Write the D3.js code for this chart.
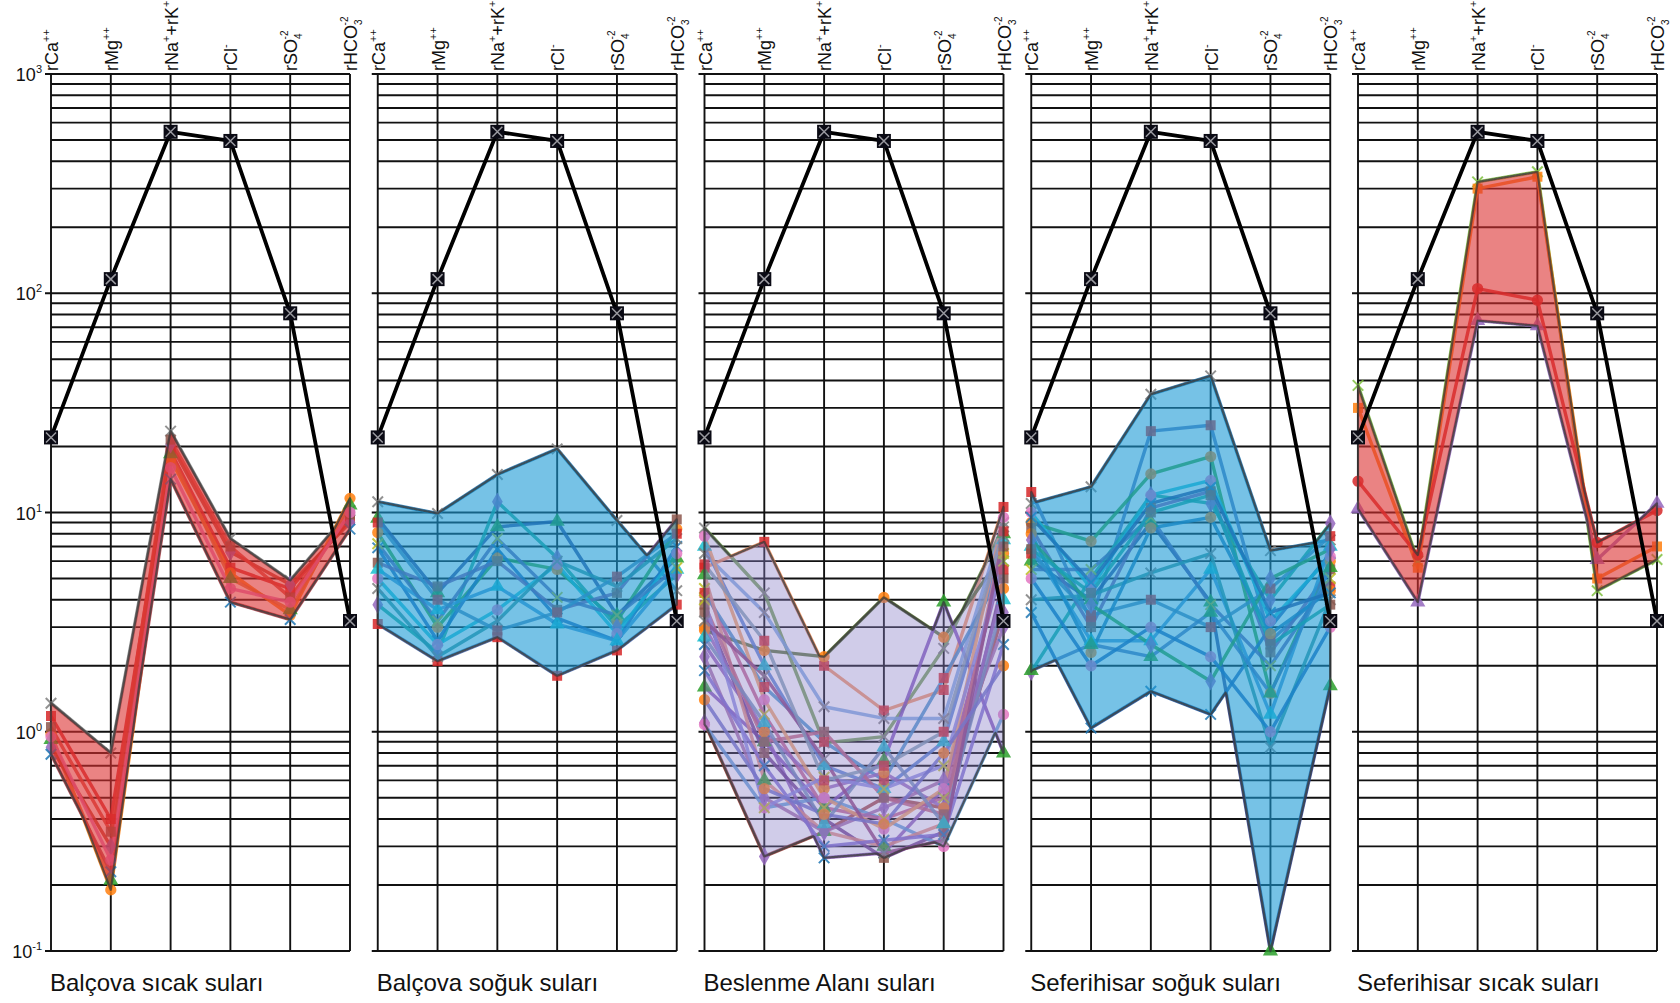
<!DOCTYPE html>
<html>
<head>
<meta charset="utf-8">
<script src="https://cdn.jsdelivr.net/npm/d3@7"></script>
<style>
  html, body { margin: 0; background: #fff; }
  svg { display: block; font-family: "Liberation Sans", Arial, sans-serif; }
</style>
</head>
<body>
<svg id="chart" width="1680" height="1003"></svg>
<script>
// ---- Schoeller diagram data (meq/L) ----
// Column order of the ions
const ions = ["Ca", "Mg", "NaK", "Cl", "SO4", "HCO3"];

// Column header labels: [text, role] pieces (role: "" normal, "sup", "sub", "subsup")
const ionLabels = [
  [["rCa", ""], ["++", "sup"]],
  [["rMg", ""], ["++", "sup"]],
  [["rNa", ""], ["+", "sup"], ["+rK", ""], ["+", "sup"]],
  [["rCl", ""], ["-", "sup"]],
  [["rSO", ""], ["4", "sub"], ["-2", "subsup"]],
  [["rHCO", ""], ["3", "sub"], ["-2", "subsup"]]
];

// Decade tick labels (exponents of 10)
const tickExponents = ["3", "2", "1", "0", "-1"];

const panelTitles = [
  "Balçova sıcak suları",
  "Balçova soğuk suları",
  "Beslenme Alanı suları",
  "Seferihisar soğuk suları",
  "Seferihisar sıcak suları"
];

// Sea water reference profile drawn in black on every panel
const referenceWater = [22, 116, 545, 495, 81, 3.2];

const balcovaHot = [
  [1.35, 0.80, 23.5, 7.6, 4.9, 10.2],
  [1.18, 0.40, 19.0, 5.6, 4.5, 9.3],
  [0.98, 0.19, 17.5, 5.3, 3.4, 11.6],
  [0.92, 0.21, 18.5, 5.0, 3.6, 10.8],
  [0.85, 0.30, 20.5, 6.6, 4.7, 9.0],
  [0.79, 0.23, 14.2, 3.9, 3.25, 8.4],
  [1.05, 0.35, 21.5, 7.0, 4.1, 9.8],
  [0.95, 0.26, 16.0, 4.5, 3.9, 10.0]
];

const balcovaCold = [
  [11.2, 9.9, 14.9, 19.5, 9.2, 4.4],
  [3.1, 2.1, 2.7, 1.8, 2.35, 3.8],
  [8.1, 3.0, 6.2, 5.5, 3.2, 8.4],
  [9.4, 4.3, 8.6, 9.1, 3.4, 6.2],
  [3.8, 2.3, 11.2, 6.2, 3.0, 5.2],
  [6.9, 2.6, 6.8, 3.3, 2.6, 7.0],
  [5.9, 4.6, 6.0, 3.6, 4.3, 9.3],
  [5.0, 2.5, 3.6, 5.8, 2.8, 6.5],
  [5.5, 3.6, 4.6, 3.1, 2.6, 5.5],
  [7.2, 3.2, 7.6, 4.1, 3.4, 5.6],
  [4.5, 2.2, 3.2, 6.0, 4.6, 7.6],
  [9.0, 4.0, 2.9, 3.5, 5.1, 8.0]
];

const rechargeArea = [
  [8.5, 4.3, 0.89, 0.95, 2.4, 8.6],
  [5.6, 7.35, 2.0, 1.25, 1.55, 10.6],
  [2.9, 2.35, 2.2, 4.1, 2.7, 6.5],
  [1.6, 0.9, 0.45, 0.74, 3.9, 0.8],
  [1.1, 0.27, 0.35, 0.5, 0.45, 3.5],
  [2.5, 1.0, 0.266, 0.28, 0.55, 6.0],
  [3.5, 0.8, 0.4, 0.266, 0.35, 5.0],
  [1.08, 0.45, 0.5, 0.4, 0.30, 1.2],
  [7.0, 2.0, 0.7, 0.55, 0.9, 7.5],
  [4.5, 1.2, 0.45, 0.4, 0.5, 6.5],
  [6.5, 3.5, 1.3, 1.15, 1.15, 9.0],
  [4.3, 1.6, 0.9, 0.6, 1.76, 5.5],
  [3.0, 1.0, 0.55, 0.65, 0.45, 4.5],
  [5.2, 0.6, 0.35, 0.3, 0.38, 8.0],
  [2.2, 0.5, 0.35, 0.45, 0.6, 3.0],
  [1.9, 0.7, 0.3, 0.32, 0.34, 2.5],
  [3.8, 0.9, 1.0, 0.5, 0.42, 7.0],
  [7.8, 1.4, 0.5, 0.36, 0.55, 9.5],
  [2.7, 1.1, 0.38, 0.85, 0.38, 4.0],
  [4.0, 0.45, 0.62, 0.55, 0.7, 6.0],
  [3.2, 1.8, 0.75, 0.28, 0.32, 7.8],
  [5.8, 2.6, 0.6, 0.7, 1.0, 8.2],
  [1.4, 0.55, 0.42, 0.38, 0.8, 2.0]
];

const seferihisarCold = [
  [11.0, 13.1, 34.6, 42.0, 6.7, 7.5],
  [12.4, 3.2, 23.5, 25.0, 2.6, 4.6],
  [9.0, 7.4, 15.0, 18.0, 1.5, 6.0],
  [6.0, 4.0, 9.0, 3.9, 0.1, 1.62],
  [1.88, 5.0, 12.0, 11.0, 4.0, 8.9],
  [3.5, 1.04, 1.53, 1.2, 3.0, 6.5],
  [8.5, 3.0, 10.5, 12.5, 2.3, 5.5],
  [10.0, 4.5, 12.0, 14.0, 3.2, 6.3],
  [7.0, 2.6, 2.6, 5.5, 1.2, 7.0],
  [5.5, 5.5, 9.5, 3.8, 2.0, 5.0],
  [4.0, 4.2, 5.3, 6.5, 0.85, 4.0],
  [6.5, 3.4, 4.0, 3.0, 4.5, 7.8],
  [8.0, 2.3, 8.5, 9.5, 2.8, 4.4],
  [1.9, 2.5, 2.2, 3.5, 1.5, 5.6],
  [7.5, 3.8, 2.5, 1.7, 5.0, 6.8],
  [9.5, 4.8, 11.0, 13.0, 3.5, 4.3],
  [6.8, 4.3, 10.0, 12.0, 2.5, 3.8],
  [5.0, 2.0, 3.0, 2.2, 1.0, 3.0]
];

const seferihisarHot = [
  [38.0, 6.0, 322, 358, 4.4, 6.1],
  [30.0, 5.6, 300, 340, 5.0, 7.0],
  [13.9, 6.4, 105, 93, 7.3, 10.2],
  [10.4, 3.9, 75, 71, 6.1, 11.0]
];

const panelSamples = [balcovaHot, balcovaCold, rechargeArea, seferihisarCold, seferihisarHot];

// ---- styling ----
const envelopeFill = ["#dc3030", "#1a9ad6", "#8a80c8", "#1a9ad6", "#dc3030"];
const envelopeOpacity = [0.6, 0.6, 0.4, 0.6, 0.6];

const warmLines = ["#7f7f7f", "#d62728", "#ff7f0e", "#e07b39", "#c0392b", "#b8414a", "#d9463b", "#e377c2"];
const coolLines = ["#1f77b4", "#4a6fb5", "#2ca02c", "#2a3f8f", "#17a589", "#1f5fb4", "#7a4fa0", "#17becf", "#3b8fd0", "#5a5aa8", "#2f8f8f", "#4682b4"];
const mixedLines = ["#6a9a4a", "#f28e5c", "#4d6b2a", "#7b4fb8", "#a0403c", "#8a5ab8", "#6a3a8a", "#5b9bd5",
  "#4f7fd0", "#c05a8a", "#7aa7e0", "#3f8fc9", "#9467bd", "#e08a7a", "#a06aa8", "#7a6ad0", "#c2607a",
  "#f0a060", "#6f8fb8", "#8a8ae0", "#8e3f7a", "#7f9fb0", "#6a70c8"];
const panelLineColors = [warmLines, coolLines, mixedLines, coolLines, ["#7fbf3f", "#ff7f0e", "#d62728", "#9467bd"]];

const markerColors = ["#7f7f7f", "#d62728", "#ff7f0e", "#2ca02c", "#9467bd", "#1f77b4", "#8c564b", "#e377c2", "#17becf", "#bcbd22"];
const markerShapes = ["x", "square", "circle", "triangle", "diamond", "x", "square", "circle", "triangle", "x"];

// ---- layout ----
const svg = d3.select("#chart");
const panelLeft0 = 51, panelStep = 326.75, panelWidth = 299;
const yTop = 74, yBottom = 951;

const y = d3.scaleLog().domain([0.1, 1000]).range([yBottom, yTop]);

// gridline values: 1..9 x 10^k
const gridValues = [];
for (let k = -1; k <= 2; k++) for (let m = 1; m <= 9; m++) gridValues.push(m * Math.pow(10, k));
gridValues.push(1000);

const xSymbol = {
  draw(ctx, size) {
    const r = Math.sqrt(size) / 2;
    ctx.moveTo(-r, -r); ctx.lineTo(r, r);
    ctx.moveTo(r, -r); ctx.lineTo(-r, r);
  }
};
const shapeType = {
  square: d3.symbolSquare, circle: d3.symbolCircle,
  triangle: d3.symbolTriangle, diamond: d3.symbolDiamond, x: xSymbol
};

// pointwise max / min of the sample polylines (interpolated in log space)
function envelope(samples) {
  const out = [];
  const steps = 60;
  for (let i = 0; i < ions.length - 1; i++) {
    for (let s = (i === 0 ? 0 : 1); s <= steps; s++) {
      const t = s / steps;
      const logs = samples.map(v => (1 - t) * Math.log10(v[i]) + t * Math.log10(v[i + 1]));
      out.push({ pos: i + t, hi: Math.pow(10, d3.max(logs)), lo: Math.pow(10, d3.min(logs)) });
    }
  }
  return out;
}

panelSamples.forEach((samples, p) => {
  const left = panelLeft0 + p * panelStep;
  const right = left + panelWidth;
  const x = d3.scaleLinear().domain([0, ions.length - 1]).range([left, right]);
  const g = svg.append("g");

  // horizontal grid
  g.append("g").selectAll("line").data(gridValues).join("line")
    .attr("x1", d => (Math.abs(Math.log10(d) % 1) < 1e-9 ? left - 6 : left))
    .attr("x2", right)
    .attr("y1", d => y(d)).attr("y2", d => y(d))
    .attr("stroke", "#111").attr("stroke-width", 1.9);

  // vertical column lines
  g.append("g").selectAll("line").data(ions).join("line")
    .attr("x1", (d, i) => x(i)).attr("x2", (d, i) => x(i))
    .attr("y1", yTop).attr("y2", yBottom)
    .attr("stroke", "#111").attr("stroke-width", 1.9);

  // column headers
  ionLabels.forEach((parts, i) => {
    const t = g.append("text")
      .attr("transform", `translate(${x(i) + 7},${yTop - 3}) rotate(-90)`)
      .attr("font-size", 18).attr("fill", "#111");
    let shift = 0;
    parts.forEach(([txt, role]) => {
      const ts = t.append("tspan").text(txt);
      if (role === "sup") {
        ts.attr("font-size", 11).attr("dy", -8 - shift); shift = -8;
      } else if (role === "sub") {
        ts.attr("font-size", 10).attr("dy", 5 - shift); shift = 5;
      } else if (role === "subsup") {
        ts.attr("font-size", 10).attr("dx", -6).attr("dy", -14); shift = -9;
      } else {
        ts.attr("dy", -shift); shift = 0;
      }
    });
  });

  // decade tick labels on the first panel
  if (p === 0) {
    [1000, 100, 10, 1, 0.1].forEach((v, k) => {
      const t = g.append("text")
        .attr("x", left - 9).attr("y", y(v) + 7)
        .attr("text-anchor", "end").attr("font-size", 18).attr("fill", "#111");
      t.append("tspan").text("10");
      t.append("tspan").text(tickExponents[k]).attr("font-size", 11).attr("dy", -8);
    });
  }

  // sample lines
  const line = d3.line().x((d, i) => x(i)).y(d => y(d));
  const lineColors = panelLineColors[p];
  g.append("g").selectAll("path").data(samples).join("path")
    .attr("d", line)
    .attr("fill", "none")
    .attr("stroke", (d, i) => lineColors[i % lineColors.length])
    .attr("stroke-width", 3.4)
    .attr("stroke-linejoin", "round")
    .attr("opacity", 0.85);

  // sample markers
  samples.forEach((s, si) => {
    const shape = markerShapes[si % markerShapes.length];
    const col = p === 4 ? lineColors[si] : markerColors[si % markerColors.length];
    const sym = d3.symbol().type(shapeType[shape]).size(shape === "x" ? 110 : 100);
    g.append("g").selectAll("path").data(s).join("path")
      .attr("transform", (d, i) => `translate(${x(i)},${y(d)})`)
      .attr("d", sym)
      .attr("fill", shape === "x" ? "none" : col)
      .attr("stroke", shape === "x" ? col : "none")
      .attr("stroke-width", 2)
      .attr("opacity", 0.85);
  });

  // envelope band
  const env = envelope(samples);
  const area = d3.area().x(d => x(d.pos)).y0(d => y(d.lo)).y1(d => y(d.hi));
  g.append("path").datum(env)
    .attr("d", area)
    .attr("fill", envelopeFill[p]).attr("fill-opacity", envelopeOpacity[p])
    .attr("stroke", "#3a3a3a").attr("stroke-opacity", 0.75)
    .attr("stroke-width", 2.2).attr("stroke-linejoin", "round");

  // reference profile
  g.append("path").datum(referenceWater)
    .attr("d", line)
    .attr("fill", "none").attr("stroke", "#000").attr("stroke-width", 3.8)
    .attr("stroke-linejoin", "round");
  const refMarks = g.append("g").selectAll("g").data(referenceWater).join("g")
    .attr("transform", (d, i) => `translate(${x(i)},${y(d)})`);
  refMarks.append("rect").attr("x", -7).attr("y", -7).attr("width", 14).attr("height", 14)
    .attr("fill", "#0a0a14");
  refMarks.append("path").attr("d", "M-5,-5L5,5M5,-5L-5,5")
    .attr("stroke", "#9a9aa0").attr("stroke-width", 1.5);

  // panel title
  g.append("text")
    .attr("x", left - 1).attr("y", 991)
    .attr("font-size", 24).attr("fill", "#111")
    .text(panelTitles[p]);
});
</script>
</body>
</html>
